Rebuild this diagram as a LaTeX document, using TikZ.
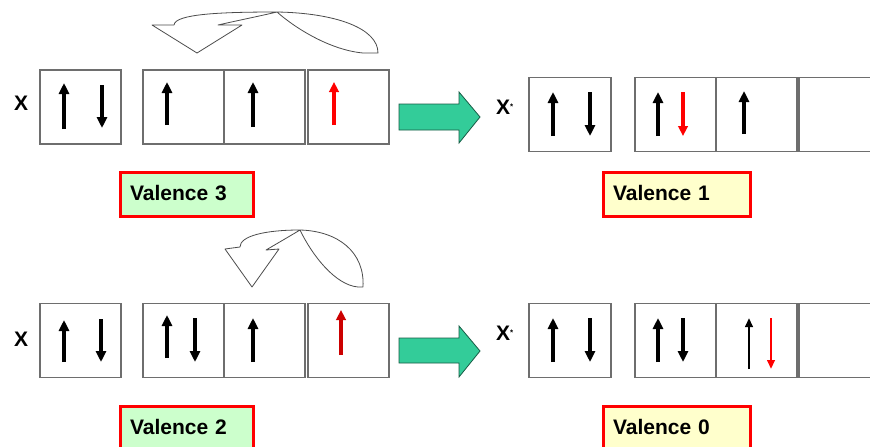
\documentclass[tikz,border=0pt]{standalone}
\usepackage{fontspec}
\setmainfont{Liberation Sans}
\usetikzlibrary{arrows.meta}
\definecolor{arrowgreen}{RGB}{51,204,153}
\definecolor{boxgray}{RGB}{110,110,110}
\definecolor{valgreen}{RGB}{204,255,204}
\definecolor{valyellow}{RGB}{255,255,204}
\definecolor{darkred}{RGB}{204,0,0}
\begin{document}
\begin{tikzpicture}[x=1pt,y=-1pt,
 orb/.style={draw=boxgray, line width=1.1pt, fill=white, minimum width=81pt, minimum height=74pt, inner sep=0pt},
 spin/.style={line width=3.8pt, -{Triangle[width=10pt,length=11pt]}},
 spinred/.style={line width=3.4pt, red, -{Triangle[width=9.5pt,length=10pt]}},
 spinthin/.style={line width=2.4pt, -{Triangle[width=7.5pt,length=9pt]}},
 val/.style={draw=red, line width=3pt, inner xsep=9.5pt, inner ysep=0pt, align=left, font=\bfseries\fontsize{21}{24}\selectfont, text height=15pt, text depth=3pt, minimum height=44pt},
 lbl/.style={font=\bfseries\fontsize{21}{24}\selectfont, inner sep=0pt, anchor=base west},
 curl/.style={draw=black!70, line width=0.8pt, fill=white, line join=round},
 bigarrow/.style={draw=black!55!arrowgreen, line width=0.8pt, fill=arrowgreen}
]
\clip (0,0) rectangle (870,447);
\fill[white] (0,0) rectangle (870,447);

% ---------- top row ----------
\node[lbl] (xa) at (14,110) {X};
\node[orb] (a1) at (80.5,107) {};
\node[orb] (a2) at (183.5,107) {};
\node[orb] (a3) at (264.5,107) {};
\node[orb] (a4) at (348.5,107) {};
\draw[spin] (64,129) -- (64,83);
\draw[spin] (102,85) -- (102,128);
\draw[spin] (167,125) -- (167,82);
\draw[spin] (253,127) -- (253,82);
\draw[spinred] (334,125) -- (334,82);

\draw[curl] (378,53) .. controls (378,28) and (335,13) .. (277,12)
  .. controls (220,12) and (175,14) .. (174,25)
  -- (152,25) -- (197,53) -- (242,25) -- (218,25)
  .. controls (240,20) and (260,16) .. (277,12)
  .. controls (295,28) and (330,50) .. (363,53) -- cycle;

\draw[bigarrow] (399,104) -- (459,104) -- (459,92) -- (480,117) -- (459,143) -- (459,130) -- (399,130) -- cycle;

\node[lbl] (xb) at (496,114) {X\raisebox{5pt}{\fontsize{8}{8}\selectfont *}};
\node[orb, minimum width=82pt] (b1) at (570,114.5) {};
\node[orb] (b2) at (675.5,114.5) {};
\node[orb] (b3) at (756.5,114.5) {};
\node[orb] (b4) at (839.5,114.5) {};
\draw[spin] (553,136) -- (553,92);
\draw[spin] (590,92) -- (590,136);
\draw[spin] (658,136) -- (658,92);
\draw[spinred] (683,92) -- (683,136);
\draw[spin] (744,134) -- (744,91);

\node[val, fill=valgreen, text width=114pt] (v3) at (187,194.5) {Valence 3};
\node[val, fill=valyellow, text width=128pt] (v1) at (677,194) {Valence 1};

% ---------- bottom row ----------
\node[lbl] (xc) at (14,346) {X};
\node[orb] (c1) at (80.5,340.5) {};
\node[orb] (c2) at (183.5,340.5) {};
\node[orb] (c3) at (264.5,340.5) {};
\node[orb] (c4) at (348.5,340.5) {};
\draw[spin] (64,362) -- (64,320);
\draw[spin] (101,319) -- (101,362);
\draw[spin] (167,358) -- (167,315);
\draw[spin] (195,318) -- (195,362);
\draw[spin] (253,362) -- (253,318);
\draw[spinred, darkred] (341,355) -- (341,310);

\draw[curl] (363,287) .. controls (365,252) and (338,231) .. (300,230)
  .. controls (265,230) and (240,236) .. (240,247)
  -- (225,249) -- (252,287) -- (279,249) -- (266,250)
  .. controls (278,243) and (290,236) .. (300,230)
  .. controls (312,255) and (335,285) .. (358,287) -- cycle;

\draw[bigarrow] (399,338) -- (459,338) -- (459,326) -- (480,351) -- (459,377) -- (459,363) -- (399,363) -- cycle;

\node[lbl] (xd) at (496,340) {X\raisebox{5pt}{\fontsize{8}{8}\selectfont *}};
\node[orb, minimum width=82pt] (d1) at (570,340.5) {};
\node[orb] (d2) at (675.5,340.5) {};
\node[orb] (d3) at (756.5,340.5) {};
\node[orb] (d4) at (839.5,340.5) {};
\draw[spin] (553,362) -- (553,318);
\draw[spin] (590,318) -- (590,362);
\draw[spin] (658,362) -- (658,318);
\draw[spin] (683,318) -- (683,362);
\draw[spinthin] (749,369) -- (749,318);
\draw[spinthin, red] (771,318) -- (771,369);

\node[val, fill=valgreen, text width=114pt] (v2) at (187,428.5) {Valence 2};
\node[val, fill=valyellow, text width=128pt] (v0) at (677,428) {Valence 0};
\end{tikzpicture}
\end{document}
